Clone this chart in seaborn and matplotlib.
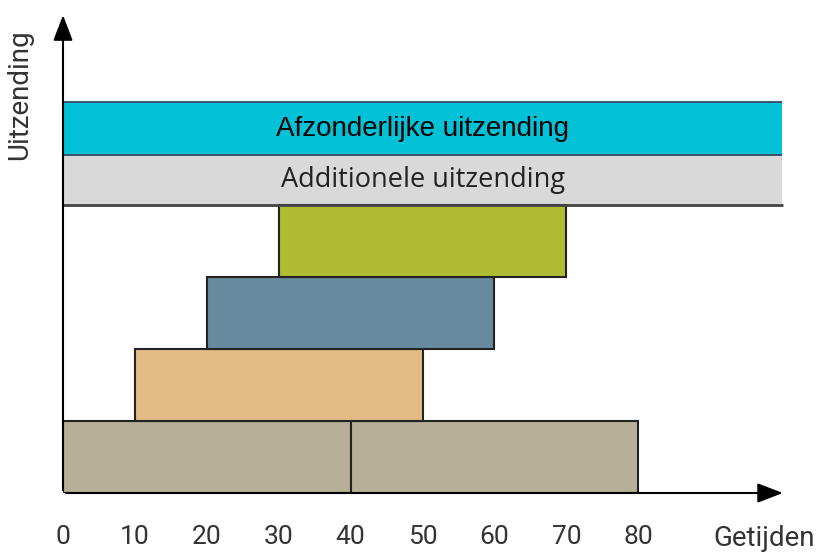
import matplotlib
matplotlib.use("Agg")
import matplotlib.pyplot as plt
import seaborn as sns

# rows of bars (bottom to top)
row_pos = [0, 0, 1, 2, 3]
row_start = [0, 40, 10, 20, 30]
row_end = [40, 80, 50, 60, 70]
row_colors = ["#B8AF98", "#B8AF98", "#E4BA86", "#688A9E", "#AFBD35"]

# bands on top
band_labels = ["Additionele uitzending", "Afzonderlijke uitzending"]
band_bottom = [4.0, 4.694]
band_top = [4.694, 5.43]
band_colors = ["#D9D9D9", "#00C1D5"]
band_end = 100

tick_values = [0, 10, 20, 30, 40, 50, 60, 70, 80]
tick_labels = ["0", "10", "20", "30", "40", "50", "60", "70", "80"]
x_label = "Getijden"
y_label = "Uitzending"

sns.set_theme(style="white")
plt.rcParams["font.family"] = ["Roboto", "DejaVu Sans"]

fig = plt.figure(figsize=(8.24, 5.55), dpi=100)
ax = fig.add_axes([63 / 824, 62 / 555, 755 / 824, 482 / 555])
ax.set_xlim(0, 105)
ax.set_ylim(0, 6.7)

# stacked timing bars
for y, s, e, c in zip(row_pos, row_start, row_end, row_colors):
    ax.barh(y + 0.5, e - s, left=s, height=1.0, color=c,
            edgecolor="#222222", linewidth=1.5, zorder=2)

# bands
for lab, b, t, c in zip(band_labels, band_bottom, band_top, band_colors):
    ax.barh((b + t) / 2, band_end, left=0, height=t - b, color=c,
            linewidth=0, zorder=1)
ax.hlines([band_top[1], band_bottom[1]], 0, band_end, color="#2E4A6B", lw=1.3, zorder=3)
ax.hlines(band_bottom[0], 0, band_end + 0.2, color="#444444", lw=2, zorder=3)

ax.text(50, (band_bottom[1] + band_top[1]) / 2, band_labels[1], ha="center", va="center",
        fontsize=20, family=["Liberation Sans"], color="black", zorder=4)
ax.text(50, (band_bottom[0] + band_top[0]) / 2, band_labels[0], ha="center", va="center",
        fontsize=19.5, family=["Open Sans"], color="#222222", zorder=4)

# axes with arrows
for sp in ax.spines.values():
    sp.set_visible(False)
ax.annotate("", xy=(100.5, 0), xytext=(0, 0),
            arrowprops=dict(arrowstyle="-|>,head_length=1.3,head_width=0.5", color="black", lw=1.5),
            zorder=5, annotation_clip=False)
ax.annotate("", xy=(0, 6.68), xytext=(0, 0),
            arrowprops=dict(arrowstyle="-|>,head_length=1.3,head_width=0.5", color="black", lw=1.5),
            zorder=5, annotation_clip=False)

ax.set_xticks(tick_values)
ax.set_xticklabels(tick_labels, fontsize=19, color="#333333")
ax.set_yticks([])
ax.tick_params(axis="x", length=0, pad=23)

ax.text(90.4, -0.63, x_label, ha="left", va="center", fontsize=20,
        color="#333333", clip_on=False)
ax.text(-6.0, 5.53, y_label, ha="center", va="center", rotation=90,
        fontsize=20, color="#333333", clip_on=False)

fig.savefig("out.png", dpi=100)
